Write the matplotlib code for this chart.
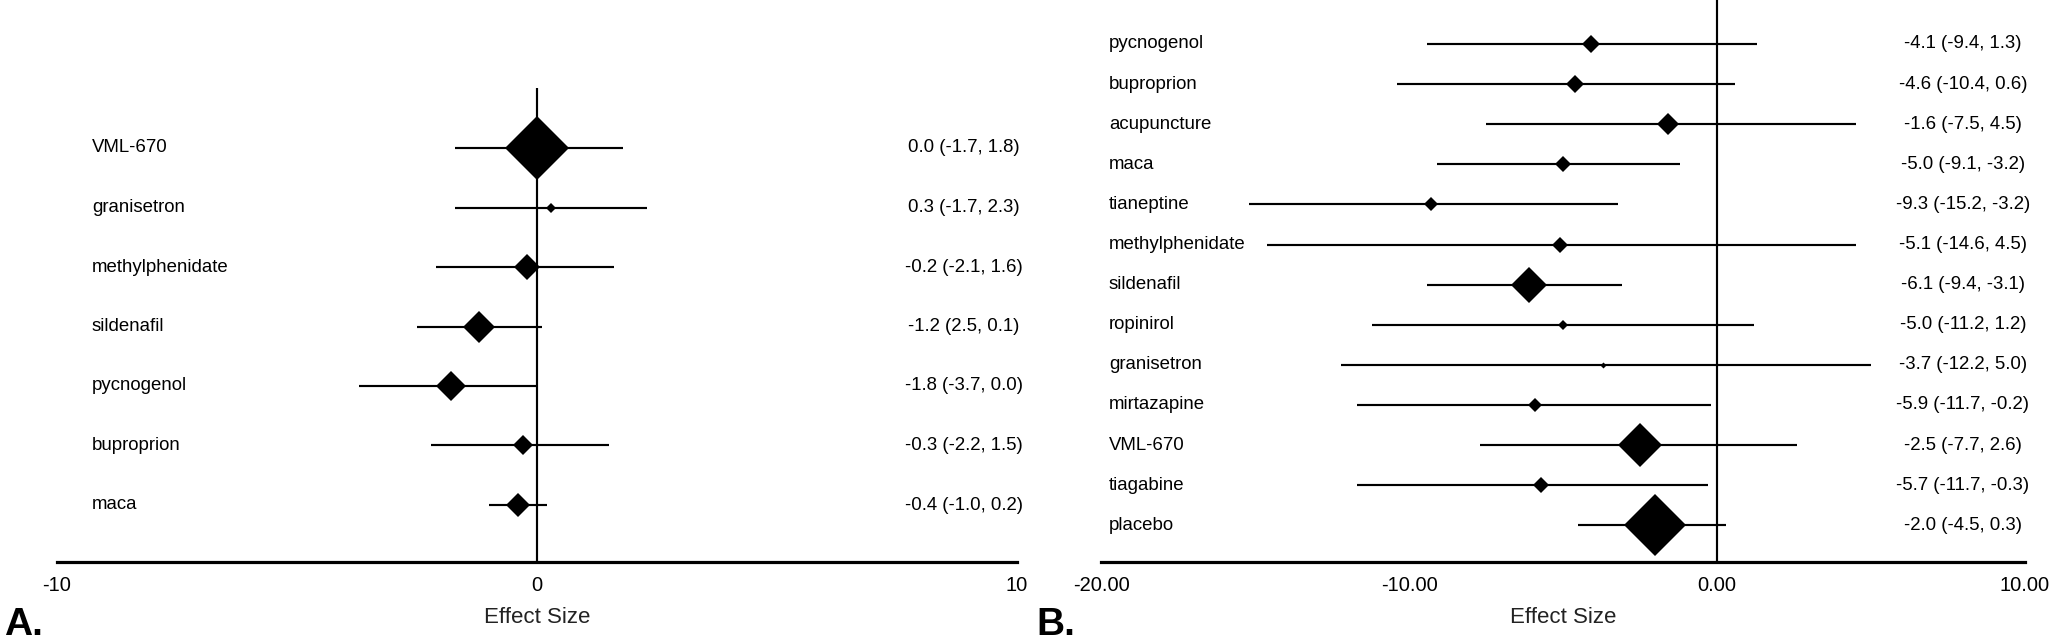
import matplotlib
matplotlib.use("Agg")
import matplotlib.pyplot as plt
from matplotlib import transforms

# ---------------- data ----------------
drugs_a = ["VML-670", "granisetron", "methylphenidate", "sildenafil",
           "pycnogenol", "buproprion", "maca"]
est_a = [0.0, 0.3, -0.2, -1.2, -1.8, -0.3, -0.4]
lo_a = [-1.7, -1.7, -2.1, -2.5, -3.7, -2.2, -1.0]
hi_a = [1.8, 2.3, 1.6, 0.1, 0.0, 1.5, 0.2]
text_a = ["0.0 (-1.7, 1.8)", "0.3 (-1.7, 2.3)", "-0.2 (-2.1, 1.6)",
          "-1.2 (2.5, 0.1)", "-1.8 (-3.7, 0.0)", "-0.3 (-2.2, 1.5)",
          "-0.4 (-1.0, 0.2)"]
weight_a = [63, 10, 26, 31, 30, 19, 23]   # relative diamond size
ticks_a = [-10, 0, 10]
ticklabels_a = ["-10", "0", "10"]

drugs_b = ["pycnogenol", "buproprion", "acupuncture", "maca", "tianeptine",
           "methylphenidate", "sildenafil", "ropinirol", "granisetron",
           "mirtazapine", "VML-670", "tiagabine", "placebo"]
est_b = [-4.1, -4.6, -1.6, -5.0, -9.3, -5.1, -6.1, -5.0, -3.7, -5.9, -2.5, -5.7, -2.0]
lo_b = [-9.4, -10.4, -7.5, -9.1, -15.2, -14.6, -9.4, -11.2, -12.2, -11.7, -7.7, -11.7, -4.5]
hi_b = [1.3, 0.6, 4.5, -1.2, -3.2, 4.5, -3.1, 1.2, 5.0, -0.2, 2.6, -0.3, 0.3]
text_b = ["-4.1 (-9.4, 1.3)", "-4.6 (-10.4, 0.6)", "-1.6 (-7.5, 4.5)",
          "-5.0 (-9.1, -3.2)", "-9.3 (-15.2, -3.2)", "-5.1 (-14.6, 4.5)",
          "-6.1 (-9.4, -3.1)", "-5.0 (-11.2, 1.2)", "-3.7 (-12.2, 5.0)",
          "-5.9 (-11.7, -0.2)", "-2.5 (-7.7, 2.6)", "-5.7 (-11.7, -0.3)",
          "-2.0 (-4.5, 0.3)"]
weight_b = [18, 18, 21, 16, 14, 16, 35, 10, 6, 14, 44, 16, 62]
ticks_b = [-20, -10, 0, 10]
ticklabels_b = ["-20.00", "-10.00", "0.00", "10.00"]

plt.rcParams["font.family"] = ["Liberation Sans", "DejaVu Sans"]

W, H = 2050, 639
fig = plt.figure(figsize=(W / 100, H / 100), dpi=100)

def px_axes(x0, x1, y_top, y_bot):
    return fig.add_axes([x0 / W, 1 - y_bot / H, (x1 - x0) / W, (y_bot - y_top) / H])

LW = 1.55
FS = 13.4

def panel(ax, drugs, est, lo, hi, texts, weights, xlim, ticks, tlabels,
          first_row_px, row_px, axis_px, vline_top_px, label_xfrac, right_xfrac):
    n = len(drugs)
    ypos = list(range(n))
    top = -first_row_px / row_px
    bot = (axis_px - first_row_px) / row_px
    ax.set_xlim(*xlim)
    ax.set_ylim(bot, top)
    vtop = (vline_top_px - first_row_px) / row_px
    ax.vlines(0, bot, vtop, color="black", lw=LW, zorder=1)
    ax.hlines(ypos, lo, hi, color="black", lw=LW, zorder=2)
    for y, e, w in zip(ypos, est, weights):
        ax.plot(e, y, marker="D", ms=w / 1.964, color="black", mew=0, zorder=3)
    for y, name, t in zip(ypos, drugs, texts):
        ax.text(label_xfrac, y, name, transform=ax.get_yaxis_transform(),
                ha="left", va="center", fontsize=FS)
        ax.text(right_xfrac, y, t, transform=ax.get_yaxis_transform(),
                ha="center", va="center", fontsize=FS)
    for s in ["top", "left", "right"]:
        ax.spines[s].set_visible(False)
    ax.spines["bottom"].set_linewidth(2.3)
    ax.set_xticks(ticks)
    ax.set_xticklabels(tlabels, fontsize=14.5)
    ax.tick_params(axis="x", length=0, pad=10)
    ax.set_yticks([])
    tr = transforms.blended_transform_factory(ax.transAxes, fig.transFigure)
    ax.text(0.5, 1 - 623 / H, "Effect Size", transform=tr, ha="center",
            va="baseline", fontsize=16, color="#222222")
    ax.patch.set_alpha(0)

axA = px_axes(57, 1017, 0, 562)
panel(axA, drugs_a, est_a, lo_a, hi_a, text_a, weight_a, (-10, 10), ticks_a,
      ticklabels_a, 148, 59.5, 562, 88, (92 - 57) / 960, (964 - 57) / 960)

axB = px_axes(1101, 2025, 0, 562)
panel(axB, drugs_b, est_b, lo_b, hi_b, text_b, weight_b, (-20, 10), ticks_b,
      ticklabels_b, 44, 40.1, 562, 0, (1109 - 1101) / 924, (1963 - 1101) / 924)

fig.text(4 / W, 1 - 635 / H, "A.", fontsize=28, fontweight="bold", ha="left", va="baseline")
fig.text(1036 / W, 1 - 635 / H, "B.", fontsize=28, fontweight="bold", ha="left", va="baseline")

fig.savefig("out.png", dpi=100, facecolor="white")
